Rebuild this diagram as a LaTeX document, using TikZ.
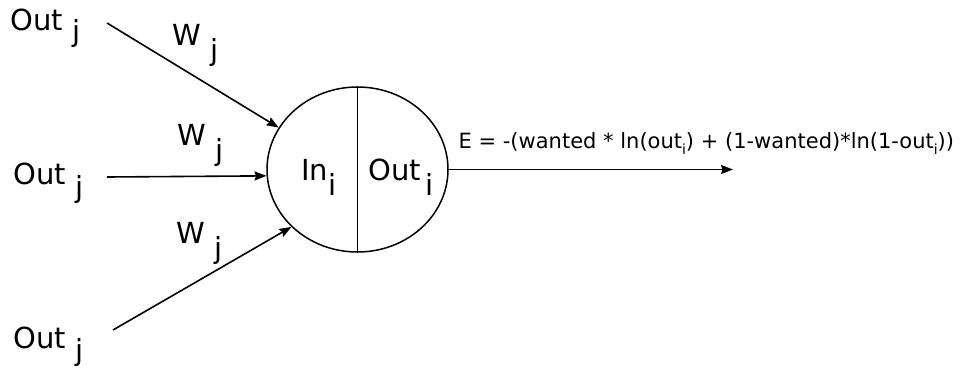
\documentclass[tikz,border=0pt]{standalone}
\usepackage{fontspec}
\setmainfont{DejaVu Sans}
\usetikzlibrary{arrows.meta,shapes.geometric}

% lowered index letter, same size as the text
\newcommand\lowidx[2]{\raisebox{-#1pt}{#2}}
% small lowered index inside the error formula
\newcommand\fidx[1]{\raisebox{-6pt}{\fontsize{14}{14}\selectfont #1}}

\begin{document}
\begin{tikzpicture}[x=1pt,y=-1pt,
  lbl/.style={anchor=base west,inner sep=0pt,font=\fontsize{29}{29}\selectfont},
  conn/.style={line width=1.6pt,-{Stealth[length=12pt,width=9pt,inset=1.5pt]}},
]
\useasboundingbox (0,0) rectangle (963,372);

% input labels
\node[lbl] (outA) at (10.5,30)  {Out \lowidx{11.5}{j}};
\node[lbl] (outB) at (13.5,184) {Out \lowidx{13}{j}};
\node[lbl] (outC) at (13.5,348) {Out \lowidx{12.5}{j}};

% weight labels
\node[lbl] (wA) at (172,45)  {W \lowidx{15}{j}};
\node[lbl] (wB) at (177,145) {W \lowidx{15}{j}};
\node[lbl] (wC) at (176,243) {W \lowidx{15}{j}};

% the neuron
\node[draw,ellipse,line width=1.5pt,minimum width=181pt,minimum height=165pt,inner sep=0pt]
  (neuron) at (357.5,169.5) {};
\draw[line width=1.5pt] (neuron.north) -- (neuron.south);
\node[lbl] (inlbl)  at (301,180)   {In\lowidx{15}{i}};
\node[lbl] (outlbl) at (368.5,180) {Out\hspace{4pt}\lowidx{15}{i}};

% connectors
\coordinate (srcA) at (107,23);
\coordinate (srcB) at (107,177);
\coordinate (srcC) at (113,330);
\coordinate (errend) at (733,169.5);
\draw[conn] (srcA) -- (neuron.152.4);
\draw[conn] (srcB) -- (neuron.184.8);
\draw[conn] (srcC) -- (neuron.221);
\draw[conn] (neuron.east) -- (errend);

% error formula
\node[anchor=base west,inner sep=0pt,font=\fontsize{21}{21}\selectfont] (err) at (458.5,148)
  {E = -(wanted * ln(out\fidx{i}) + (1-wanted)*ln(1-out\fidx{i}))};
\end{tikzpicture}
\end{document}
